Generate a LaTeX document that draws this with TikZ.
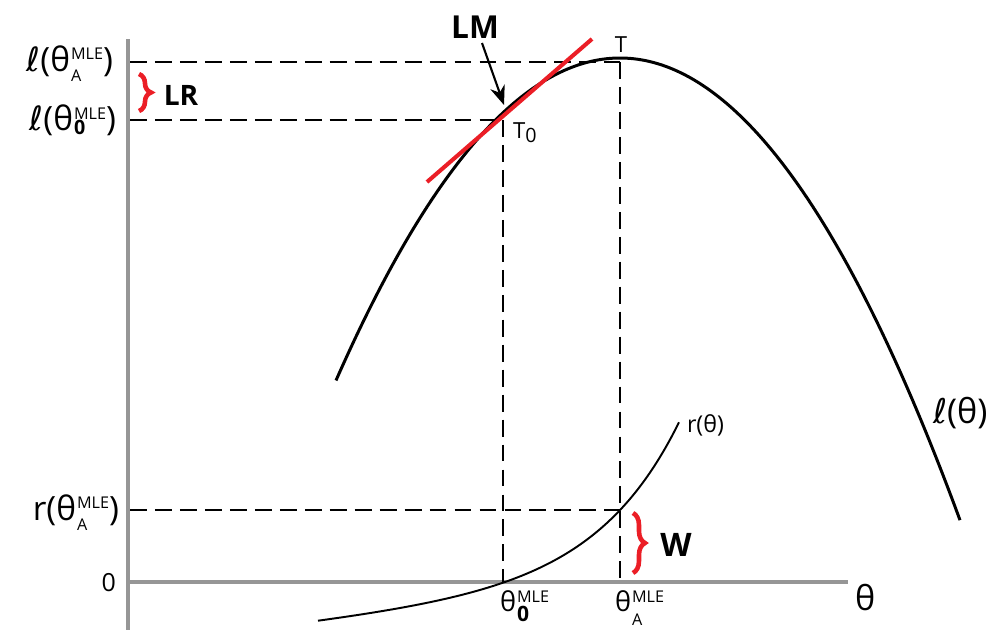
\documentclass[tikz,border=0pt]{standalone}
\usepackage{fontspec}
\setmainfont{Open Sans}
\newfontfamily\dejavu{DejaVu Sans}
\usetikzlibrary{decorations.pathreplacing,arrows.meta}
\newcommand{\fs}[1]{\fontsize{#1}{#1}\selectfont}
\newcommand{\ellc}{{\dejavu ℓ}}
% #1 superscript, #2 subscript, #3 raise, #4 lower
\newcommand{\SupSub}[4]{\kern0.3pt\setbox0\hbox{#1}\setbox2\hbox{#2}\dimen0=\wd0 \ifdim\wd2>\dimen0 \dimen0=\wd2\fi\rlap{\raise#3\box0}\rlap{\lower#4\box2}\kern\dimen0\relax}
\definecolor{axisgray}{RGB}{150,150,150}
\definecolor{myred}{RGB}{235,30,38}
\begin{document}
\begin{tikzpicture}[x=0.01cm,y=-0.01cm,
  axisline/.style={axisgray,line width=1.2pt},
  guide/.style={black,line width=0.6pt,dash pattern=on 4.8pt off 2.3pt},
  redbrace/.style={myred,line width=1.3pt,decorate,decoration={brace,amplitude=3.4pt}},
  lab/.style={inner sep=0pt,outer sep=0pt},
  boldlab/.style={inner sep=0pt,font=\bfseries}]
\useasboundingbox (0,0) rectangle (1002,630);
% key points
\coordinate (yTop) at (128,39);
\coordinate (yBot) at (128,630);
\coordinate (O) at (128,582);
\coordinate (xEnd) at (848,582);
\coordinate (T) at (620,62);
\coordinate (T0) at (503,120);
\coordinate (LA) at (130,62);
\coordinate (L0) at (130,120);
\coordinate (RA) at (130,510);
\coordinate (Rpt) at (620,510);
\coordinate (xA) at (620,582);
\coordinate (x0) at (503,582);
\coordinate (tanA) at (427,182);
\coordinate (tanB) at (592,39);
\coordinate (arrA) at (482,43);
\coordinate (arrB) at (504,105);
\coordinate (lrA) at (139,74);
\coordinate (lrB) at (139,111);
\coordinate (wA) at (633,513);
\coordinate (wB) at (633,573);
% axes
\draw[axisline] (yTop) -- (yBot);
\draw[axisline] (O) -- (xEnd);
% guides
\draw[guide] (LA) -- (T);
\draw[guide] (L0) -- (T0);
\draw[guide] (T0) -- (x0);
\draw[guide] (T) -- (xA);
\draw[guide] (RA) -- (Rpt);
% log-likelihood curve
\draw[black,line width=0.85pt] plot[domain=336:960,samples=160,smooth] (\x,{58+0.004*(\x-620)*(\x-620)});
% r curve
\draw[black,line width=0.55pt] plot[domain=318:679,samples=120,smooth] (\x,{582-(19.87*(exp(0.012*(\x-505))-1)+0.112*(\x-505))});
% tangent
\draw[myred,line width=1.15pt] (tanA) -- (tanB);
% LM arrow
\draw[black,line width=0.6pt,-{Stealth[length=5.5pt,width=4.3pt]}] (arrA) -- (arrB);
% braces
\draw[redbrace] (lrA) -- (lrB);
\draw[redbrace] (wA) -- (wB);
% labels
\node[boldlab,font=\bfseries\fs{9}] (LM) at (475,27) {LM};
\node[boldlab,font=\bfseries\fs{8}] (LR) at (181,95) {LR};
\node[boldlab,font=\bfseries\fs{9.2}] (W) at (676,545) {W};
\node[lab,anchor=base] (Tl) at (621,52) {\fs{6.3}T};
\node[lab,anchor=base west] (T0l) at (513,138) {\fs{6.3}T\raisebox{-1.3pt}{\fs{5.6}0}};
\node[lab,anchor=base east] (lA) at (113,71) {\fs{9.5}\ellc(θ\SupSub{\fs{4.6}MLE}{\fs{4.6}A}{3.4pt}{3.1pt})};
\node[lab,anchor=base east] (l0) at (116,130) {\fs{9.5}\ellc(θ\SupSub{\fs{4.6}MLE}{\fs{5.6}\bfseries 0}{3pt}{1.2pt})};
\node[lab,anchor=base east] (rA) at (119,520) {\fs{9.5}r(θ\SupSub{\fs{4.6}MLE}{\fs{4.6}A}{3.4pt}{2.9pt})};
\node[lab,anchor=base east] (zero) at (116,591) {\fs{7.1}0};
\node[lab,anchor=base west] (ellth) at (933,423) {\fs{9.7}\ellc(θ)};
\node[lab,anchor=base west] (rth) at (687,432) {\fs{6.6}r(θ)};
\node[lab,anchor=base west] (th) at (855,610) {\fs{9.7}θ};
\node[lab,anchor=base west] (th0) at (500,611) {\fs{7.7}θ\SupSub{\fs{4.6}MLE}{\fs{6}\bfseries 0}{2.3pt}{3.1pt}};
\node[lab,anchor=base west] (thA) at (615,611) {\fs{7.7}θ\SupSub{\fs{4.6}MLE}{\fs{4.6}A}{2.3pt}{4.2pt}};
\end{tikzpicture}
\end{document}
